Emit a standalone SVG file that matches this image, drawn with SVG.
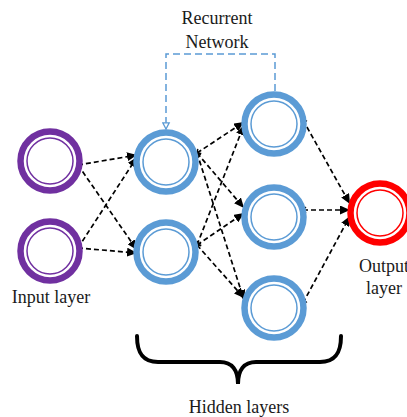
<svg xmlns="http://www.w3.org/2000/svg" width="407" height="417" viewBox="0 0 407 417">
<style>
.ring{fill:none;stroke-width:6.5}
.thin{fill:none;stroke-width:1.5}
.in{stroke:#7030A0}
.hid{stroke:#5B9BD5}
.out{stroke:#FF0000}
.lbl{font-family:"Liberation Serif","Times New Roman",serif;font-size:18px;fill:#1a1a1a;text-anchor:middle}
.c{fill:none;stroke:#000;stroke-width:1.7;stroke-dasharray:5,3;marker-end:url(#ah);marker-start:url(#tail)}
</style>
<defs>
<marker id="ah" markerUnits="userSpaceOnUse" markerWidth="11" markerHeight="9" refX="10" refY="4.5" orient="auto">
<path d="M0,0 L10,4.5 L0,9 z" fill="#000"/>
</marker>
<marker id="tail" markerUnits="userSpaceOnUse" markerWidth="6" markerHeight="8" refX="1" refY="4" orient="auto">
<path d="M4,1 L1,4 L4,7" fill="none" stroke="#000" stroke-width="1.3"/>
</marker>
<marker id="ahb" markerUnits="userSpaceOnUse" markerWidth="10" markerHeight="8" refX="4" refY="7" orient="0">
<path d="M0.8,0.8 L7.2,0.8 L4,7 z" fill="#fff" stroke="#5B9BD5" stroke-width="1.3"/>
</marker>
</defs>

<g id="connectors">
<path class="c" d="M78,165 L137,155"/>
<path class="c" d="M78,165 L137,250"/>
<path class="c" d="M78,248 L137,157"/>
<path class="c" d="M78,248 L137,253"/>
<path class="c" d="M197,153 L244,122"/>
<path class="c" d="M197,153 L244,208"/>
<path class="c" d="M197,153 L244,300"/>
<path class="c" d="M197,245 L244,125"/>
<path class="c" d="M197,245 L244,213"/>
<path class="c" d="M197,245 L244,298"/>
<path class="c" d="M303,120 L350,204"/>
<path class="c" d="M303,210 L350,210"/>
<path class="c" d="M303,303 L350,216"/>
<path id="recurrent" d="M275,91 L275,54 L166,54 L166,129" fill="none" stroke="#5B9BD5" stroke-width="1.5" stroke-dasharray="7,4" marker-end="url(#ahb)"/>
</g>

<g id="in1"><circle class="ring in" cx="50" cy="161" r="29.5"/><circle class="thin in" cx="50" cy="161" r="23"/></g>
<g id="in2"><circle class="ring in" cx="50" cy="251" r="29.5"/><circle class="thin in" cx="50" cy="251" r="23"/></g>
<g id="h1a"><circle class="ring hid" cx="166" cy="162" r="29.5"/><circle class="thin hid" cx="166" cy="162" r="23"/></g>
<g id="h1b"><circle class="ring hid" cx="166" cy="252" r="29.5"/><circle class="thin hid" cx="166" cy="252" r="23"/></g>
<g id="h2a"><circle class="ring hid" cx="274" cy="124" r="29.5"/><circle class="thin hid" cx="274" cy="124" r="23"/></g>
<g id="h2b"><circle class="ring hid" cx="274" cy="217" r="29.5"/><circle class="thin hid" cx="274" cy="217" r="23"/></g>
<g id="h2c"><circle class="ring hid" cx="274" cy="308" r="29.5"/><circle class="thin hid" cx="274" cy="308" r="23"/></g>
<g id="out"><circle class="ring out" cx="380" cy="213" r="29.5"/><circle class="thin out" cx="380" cy="213" r="23"/></g>

<g id="brace"><path d="M137,336 C137,352 142,362 158,362 L220,362 C232,362 238,370 238,384 C238,370 244,362 256,362 L320,362 C336,362 341,352 341,336" fill="none" stroke="#000" stroke-width="4" stroke-linecap="round"/></g>

<g id="labels">
<text class="lbl" x="217" y="24">Recurrent</text>
<text class="lbl" x="217" y="48">Network</text>
<text class="lbl" x="51" y="303">Input layer</text>
<text class="lbl" x="384" y="272">Output</text>
<text class="lbl" x="384" y="294">layer</text>
<text class="lbl" x="239" y="413">Hidden layers</text>
</g>
</svg>
